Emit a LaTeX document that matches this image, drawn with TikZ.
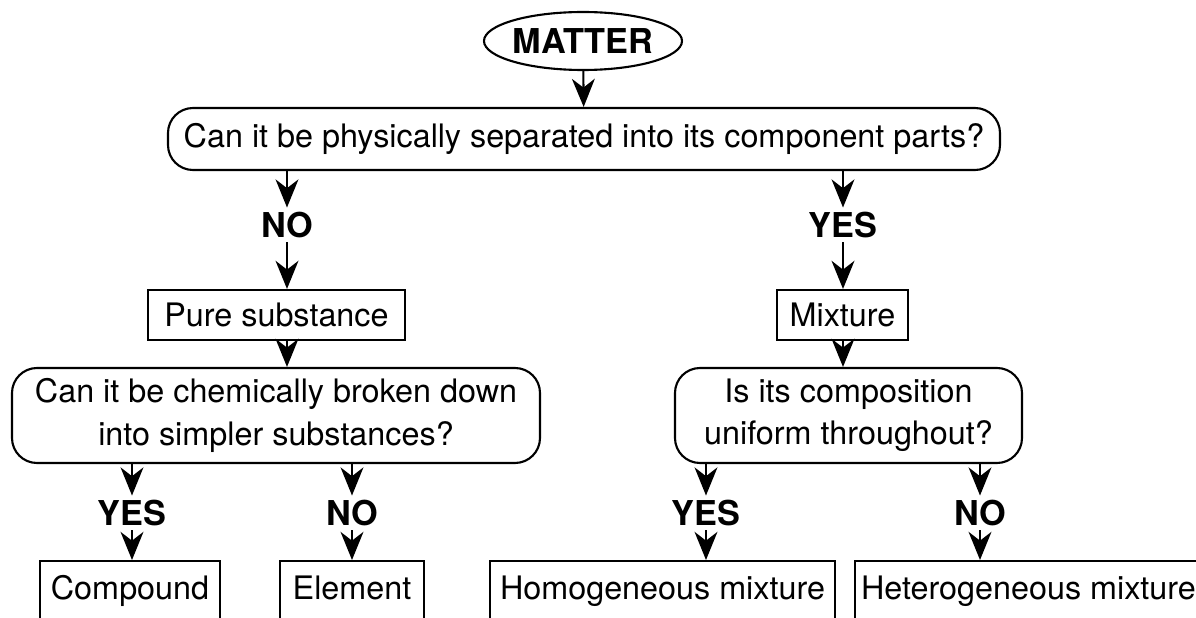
\documentclass[tikz,border=0pt]{standalone}
\usepackage{fontspec}
\setmainfont{TeX Gyre Heros}
\usepackage{tikz}
\usetikzlibrary{positioning, arrows.meta, shapes.geometric}

\begin{document}
\begin{tikzpicture}[
    line width=1.2pt,
    box/.style={rectangle, draw, minimum height=1cm, align=center, inner sep=1pt, font=\fontsize{18.4}{24}\selectfont},
    question/.style={box, rounded corners=0.5cm, minimum height=1.9cm},
    leaf/.style={box, anchor=north, minimum height=1.24cm, text height=13pt, text depth=4pt},
    answer/.style={inner sep=2pt, font=\fontsize{19.5}{22}\selectfont\bfseries},
    arrow/.style={-{Stealth[length=16pt, width=13pt, inset=5pt]}}
]
\useasboundingbox (0,0) rectangle (23.92,-12.36);

% top
\node[ellipse, draw, minimum width=3.86cm, minimum height=1.16cm, inner sep=0pt,
      font=\fontsize{19.5}{22}\selectfont\bfseries] (matter) at (11.66,-0.82) {MATTER};
\node[box, rounded corners=0.5cm, minimum width=16.64cm, minimum height=1.24cm] (sep) at (11.68,-2.78)
    {Can it be physically separated into its component parts?};

\node[answer] (no1) at (5.74,-4.5) {NO};
\node[answer] (yes1) at (16.86,-4.5) {YES};

% second level
\node[box, minimum width=5.14cm] (pure) at (5.53,-6.3) {Pure substance};
\node[box, minimum width=2.62cm] (mix) at (16.85,-6.3) {Mixture};

\node[question, minimum width=10.56cm] (chem) at (5.52,-8.31)
    {Can it be chemically broken down\\ into simpler substances?};
\node[question, minimum width=6.94cm] (uni) at (16.97,-8.31)
    {Is its composition\\ uniform throughout?};

\node[answer] (yes2) at (2.64,-10.26) {YES};
\node[answer] (no2) at (7.04,-10.26) {NO};
\node[answer] (yes3) at (14.12,-10.26) {YES};
\node[answer] (no3) at (19.6,-10.26) {NO};

% leaves (cut off at the bottom)
\node[leaf, minimum width=3.6cm] (compound) at (2.6,-11.2) {Compound};
\node[leaf, minimum width=2.88cm] (element) at (7.04,-11.2) {Element};
\node[leaf, minimum width=6.9cm] (homo) at (13.25,-11.2) {Homogeneous mixture};
\node[leaf, minimum width=6.94cm] (hetero) at (20.57,-11.2) {Heterogeneous mixture};

% arrows
\draw[arrow] (matter) -- (sep);
\foreach \lab/\top/\bot in {no1/sep/pure, yes1/sep/mix, yes2/chem/compound, no2/chem/element, yes3/uni/homo, no3/uni/hetero} {
    \draw[arrow] (\top.south -| \lab) -- (\lab.north);
    \draw[arrow] (\lab.south) -- (\lab.south |- \bot.north);
}
\draw[arrow] (pure.south -| no1) -- (chem.north -| no1);
\draw[arrow] (mix.south -| yes1) -- (uni.north -| yes1);
\end{tikzpicture}
\end{document}
